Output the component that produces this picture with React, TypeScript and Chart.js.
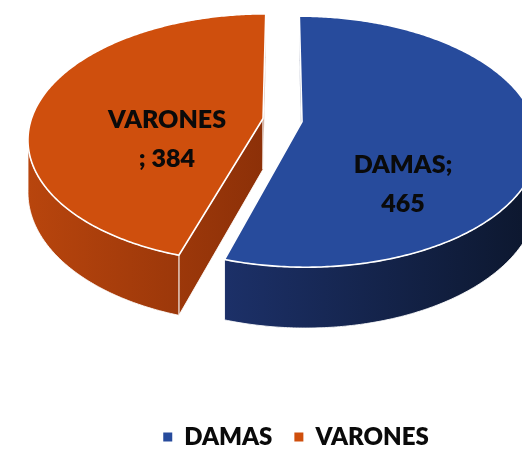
import React, { useEffect, useRef } from 'react';
import { Chart, registerables } from 'chart.js';

Chart.register(...registerables);

// ---- data ----
const CATEGORIES = ['DAMAS', 'VARONES'];
const VALUES = [465, 384];

// ---- style ----
const TOP_COLORS = ['#274B9C', '#CF4F0D'];
const WALL_COLORS = [
  ['#1C3068', '#0D1830'],
  ['#B8450D', '#8C3008'],
];
const FONT = 'Lato';
const FONT_WEIGHT = '800';

// perspective view of the pie disk (layout, not data)
const VIEW = { cx: 282.5, cy: 120, a: 232, b: 121.8, h: 51, p: 0.16, explode: 0.085 };
// data-label anchor in disk coordinates (u right, v toward viewer)
const LABEL_UV = [
  [0.48, 0.478],
  [-0.486, 0.152],
];

function labelLines(i: number): string[] {
  return i === 0
    ? [`${CATEGORIES[i]};`, `${VALUES[i]}`]
    : [CATEGORIES[i], `; ${VALUES[i]}`];
}

function proj(u: number, v: number, z: number): [number, number] {
  const s = 1 / (1 - VIEW.p * v);
  return [VIEW.cx + VIEW.a * u * s, VIEW.cy + (VIEW.b * v + VIEW.h * z) * s];
}

function area(pts: [number, number][]) {
  let s = 0;
  for (let k = 0; k < pts.length; k++) {
    const [x1, y1] = pts[k];
    const [x2, y2] = pts[(k + 1) % pts.length];
    s += x1 * y2 - x2 * y1;
  }
  return s / 2;
}

const pie3d = {
  id: 'pie3d',
  beforeDatasetsDraw(chart: any) {
    const ctx: CanvasRenderingContext2D = chart.ctx;
    const meta = chart.getDatasetMeta(0);
    const slices = meta.data.map((el: any, i: number) => {
      const { startAngle, endAngle } = el.getProps(['startAngle', 'endAngle'], true);
      const mid = (startAngle + endAngle) / 2;
      return {
        i,
        a0: startAngle,
        a1: endAngle,
        ou: VIEW.explode * Math.cos(mid),
        ov: VIEW.explode * Math.sin(mid),
      };
    });

    const pt = (s: any, a: number, z: number) => proj(s.ou + Math.cos(a), s.ov + Math.sin(a), z);
    const ctr = (s: any, z: number) => proj(s.ou, s.ov, z);
    const arcPts = (s: any, b0: number, b1: number, z: number) => {
      const n = Math.max(2, Math.ceil(Math.abs(b1 - b0) * 90));
      const out: [number, number][] = [];
      for (let k = 0; k <= n; k++) out.push(pt(s, b0 + ((b1 - b0) * k) / n, z));
      return out;
    };
    const path = (pts: [number, number][]) => {
      ctx.beginPath();
      pts.forEach(([x, y], k) => (k ? ctx.lineTo(x, y) : ctx.moveTo(x, y)));
      ctx.closePath();
    };

    ctx.save();
    ctx.lineJoin = 'round';

    // walls
    const asinP = Math.asin(VIEW.p);
    slices.forEach((s: any) => {
      const top = arcPts(s, s.a0, s.a1, 0);
      const xs = top.map((p) => p[0]).concat([ctr(s, 0)[0]]);
      const xmin = Math.max(0, Math.min(...xs));
      const xmax = Math.min(chart.width, Math.max(...xs));
      const g = ctx.createLinearGradient(xmin, 0, xmax, 0);
      g.addColorStop(0, WALL_COLORS[s.i][0]);
      g.addColorStop(1, WALL_COLORS[s.i][1]);

      const faces: [number, number][][] = [];
      const startWall: [number, number][] = [ctr(s, 0), ctr(s, 1), pt(s, s.a0, 1), pt(s, s.a0, 0)];
      const endWall: [number, number][] = [ctr(s, 0), pt(s, s.a1, 0), pt(s, s.a1, 1), ctr(s, 1)];
      if (area(startWall) > 0) faces.push(startWall);
      if (area(endWall) > 0) faces.push(endWall);
      // outer (front) wall
      const ranges = [
        [asinP, Math.PI - asinP],
        [2 * Math.PI + asinP, 3 * Math.PI - asinP],
        [-2 * Math.PI + asinP, -Math.PI - asinP],
      ];
      ranges.forEach(([r0, r1]) => {
        const b0 = Math.max(s.a0, r0);
        const b1 = Math.min(s.a1, r1);
        if (b1 > b0) {
          const t = arcPts(s, b0, b1, 0);
          const b = arcPts(s, b0, b1, 1).reverse();
          faces.push(t.concat(b));
        }
      });
      faces.forEach((f) => {
        path(f);
        ctx.fillStyle = g;
        ctx.fill();
        ctx.strokeStyle = 'rgba(255,255,255,0.85)';
        ctx.lineWidth = 1;
        ctx.stroke();
      });
    });

    // top faces
    slices.forEach((s: any) => {
      const pts = [ctr(s, 0)].concat(arcPts(s, s.a0, s.a1, 0));
      path(pts);
      ctx.fillStyle = TOP_COLORS[s.i];
      ctx.fill();
      ctx.strokeStyle = '#FFFFFF';
      ctx.lineWidth = 1.6;
      ctx.stroke();
    });

    // data labels
    ctx.fillStyle = '#0A0A0A';
    ctx.font = `${FONT_WEIGHT} 25px ${FONT}`;
    ctx.textAlign = 'center';
    ctx.textBaseline = 'alphabetic';
    slices.forEach((s: any) => {
      const [lu, lv] = LABEL_UV[s.i];
      const [x, y] = proj(lu, lv, 0);
      const lines = labelLines(s.i);
      lines.forEach((line, k) => {
        ctx.fillText(line, x, y - 10.5 + k * 39);
      });
    });

    ctx.restore();
    return false;
  },
};

export default function App() {
  const ref = useRef<HTMLCanvasElement | null>(null);
  useEffect(() => {
    if (!ref.current) return;
    const chart = new Chart(ref.current, {
      type: 'pie',
      data: {
        labels: CATEGORIES,
        datasets: [
          {
            data: VALUES,
            backgroundColor: TOP_COLORS,
            borderWidth: 0,
          },
        ],
      },
      options: {
        responsive: false,
        animation: false,
        layout: { padding: { left: 70, bottom: -10 } },
        plugins: {
          legend: {
            position: 'bottom',
            labels: {
              boxWidth: 9,
              boxHeight: 9,
              padding: 22,
              color: '#0A0A0A',
              font: { family: FONT, weight: FONT_WEIGHT as any, size: 24 },
            },
          },
          tooltip: { enabled: false },
        },
      },
      plugins: [pie3d as any],
    });
    return () => chart.destroy();
  }, []);
  return (
    <div style={{ position: 'absolute', left: 0, top: 0, width: 522, height: 449, background: '#fff' }}>
      <canvas ref={ref} width={522} height={449} style={{ display: 'block' }} />
    </div>
  );
}
